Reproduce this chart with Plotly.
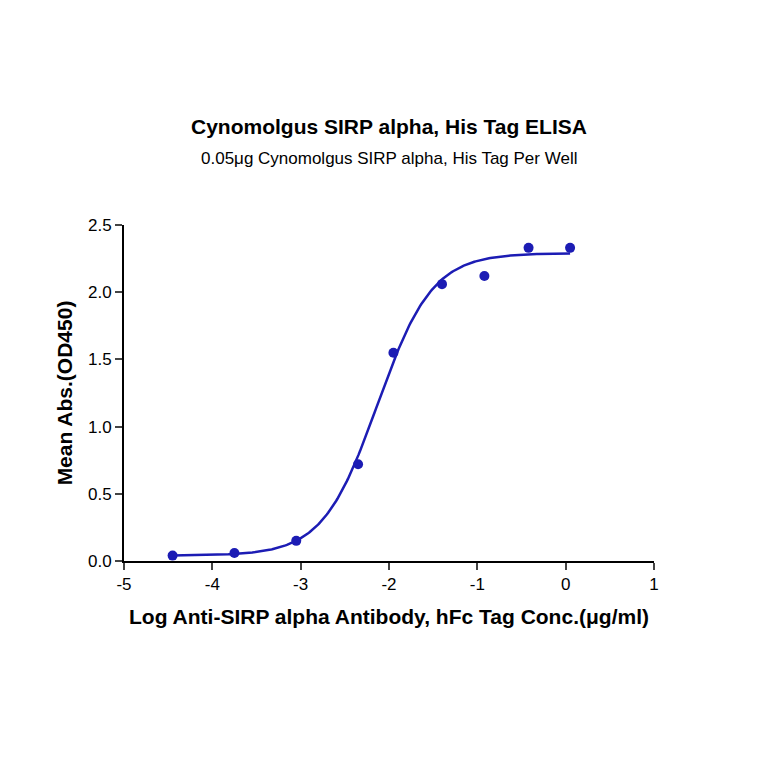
import numpy as np
import plotly.graph_objects as go

log_conc = [-4.45, -3.75, -3.05, -2.35, -1.95, -1.40, -0.92, -0.42, 0.05]
mean_abs = [0.04, 0.06, 0.15, 0.72, 1.55, 2.06, 2.12, 2.33, 2.33]
x_ticks = [-5, -4, -3, -2, -1, 0, 1]
x_tick_labels = ["-5", "-4", "-3", "-2", "-1", "0", "1"]
y_ticks = [0, 0.5, 1, 1.5, 2, 2.5]
y_tick_labels = ["0.0", "0.5", "1.0", "1.5", "2.0", "2.5"]

# 4PL fit parameters (estimated)
bottom, top, log_ec50, hill = 0.04, 2.29, -2.13, 1.4

xc = np.linspace(min(log_conc), max(log_conc), 300)
yc = bottom + (top - bottom) / (1 + 10 ** ((log_ec50 - xc) * hill))

color = "#1c1cb4"
fig = go.Figure()
fig.add_trace(go.Scatter(x=xc, y=yc, mode="lines", line=dict(color=color, width=2.5), hoverinfo="skip"))
fig.add_trace(go.Scatter(x=log_conc, y=mean_abs, mode="markers", marker=dict(color=color, size=10), cliponaxis=False))

font = "Liberation Sans, Arial, sans-serif"
T, B = 217, 211
H = 764 - T - B
fig.update_layout(
    width=764, height=764, showlegend=False,
    plot_bgcolor="white", paper_bgcolor="white",
    margin=dict(l=116, r=118, t=T, b=B),
    font=dict(family=font, color="black"),
)
fig.add_annotation(text="<b>Cynomolgus SIRP alpha, His Tag ELISA</b>", xref="paper", yref="paper",
                   x=0.5, y=1 + (T - 119) / H, showarrow=False, font=dict(size=21), yanchor="middle")
fig.add_annotation(text="0.05μg Cynomolgus SIRP alpha, His Tag Per Well", xref="paper", yref="paper",
                   x=0.5, y=1 + (T - 150) / H, showarrow=False, font=dict(size=17), yanchor="middle")
fig.update_xaxes(range=[-5, 1], tickvals=x_ticks, ticktext=x_tick_labels, showline=True, linecolor="black",
                 linewidth=2, ticks="outside", tickwidth=2, ticklen=7, showgrid=False, zeroline=False,
                 tickfont=dict(size=17),
                 title=dict(text="<b>Log Anti-SIRP alpha Antibody, hFc Tag Conc.(μg/ml)</b>", font=dict(size=21), standoff=16))
fig.update_yaxes(range=[0, 2.5], tickvals=y_ticks, ticktext=y_tick_labels,
                 showline=True, linecolor="black", linewidth=2, ticks="outside", tickwidth=2, ticklen=7,
                 showgrid=False, zeroline=False, tickfont=dict(size=17),
                 title=dict(text="<b>Mean Abs.(OD450)</b>", font=dict(size=21), standoff=10))
fig.write_html("out.html")
